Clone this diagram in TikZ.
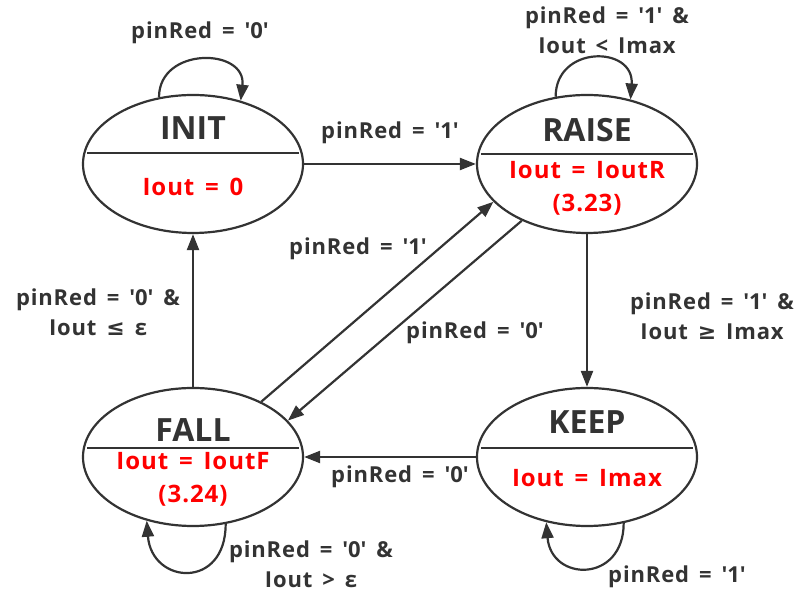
\documentclass[tikz,border=0pt]{standalone}
\usepackage{fontspec}
\setmainfont{Open Sans}
\newfontfamily\lblf{Open Sans}[LetterSpace=4,WordSpace=1.5]
\newfontfamily\symf{DejaVu Sans}
\usetikzlibrary{shapes.geometric,arrows.meta}
\definecolor{ink}{HTML}{333333}
\definecolor{redt}{HTML}{FF0000}
\newcommand\sq{\textquotesingle}
\begin{document}
\begin{tikzpicture}[x=1pt,y=1pt,
  state/.style={ellipse, draw=ink, line width=2.2pt, minimum width=220pt, minimum height=138pt, inner sep=0pt},
  title/.style={text=ink, font=\bfseries\fontsize{32}{36}\selectfont},
  val/.style={text=redt, font=\lblf\bfseries\fontsize{24}{33}\selectfont, align=center},
  lbl/.style={text=ink, font=\lblf\bfseries\fontsize{22}{30}\selectfont, align=center},
  arr/.style={draw=ink, line width=2.2pt, -{Triangle[length=16pt,width=12pt]}},
  div/.style={draw=ink, line width=2.2pt}]
\useasboundingbox (0,0) rectangle (798,596);
% states
\node[state] (INIT) at (193,432) {};
\node[state] (RAISE) at (587,432) {};
\node[state] (FALL) at (193,139) {};
\node[state] (KEEP) at (587,139) {};
% dividers
\draw[div] ([xshift=-106pt,yshift=11pt]INIT.center) -- ([xshift=106pt,yshift=11pt]INIT.center);
\draw[div] ([xshift=-106pt,yshift=10pt]RAISE.center) -- ([xshift=106pt,yshift=10pt]RAISE.center);
\draw[div] ([xshift=-106pt,yshift=9pt]FALL.center) -- ([xshift=106pt,yshift=9pt]FALL.center);
\draw[div] ([xshift=-106pt,yshift=9pt]KEEP.center) -- ([xshift=106pt,yshift=9pt]KEEP.center);
% titles and values
\node[title] (INITt) at (193,468) {INIT};
\node[val] (INITv) at (193,409) {Iout = 0};
\node[title] (RAISEt) at (587,466) {RAISE};
\node[val] (RAISEv) at (587,408) {Iout = IoutR\\(3.23)};
\node[title] (FALLt) at (193,166) {FALL};
\node[val] (FALLv) at (193,117) {Iout = IoutF\\(3.24)};
\node[title] (KEEPt) at (587,174) {KEEP};
\node[val] (KEEPv) at (587,118) {Iout = Imax};
% transitions
\draw[arr] (INIT.east) -- (RAISE.west);
\draw[arr] (KEEP.west) -- (FALL.east);
\draw[arr] (RAISE.south) -- (KEEP.north);
\draw[arr] (FALL.north) -- (INIT.south);
\draw[arr] (FALL.39.6) -- (RAISE.202.5);
\draw[arr] (RAISE.221) -- (FALL.21);
% self loops
\draw[arr] (INIT.117) .. controls +(0,51) and +(6,53) .. (INIT.53);
\draw[arr] (RAISE.115) .. controls +(0,52) and +(4,54) .. (RAISE.56);
\draw[arr] (FALL.296) .. controls +(0,-66) and +(5,-64) .. (FALL.234);
\draw[arr] (KEEP.299) .. controls +(0,-60) and +(5,-60) .. (KEEP.238);
% labels
\node[lbl] (l1) at (200,563) {pinRed = {\sq}0{\sq}};
\node[lbl] (l2) at (607,566) {pinRed = {\sq}1{\sq} \&\\Iout < Imax};
\node[lbl] (l3) at (311,32) {pinRed = {\sq}0{\sq} \&\\Iout > ε};
\node[lbl] (l4) at (677,19) {pinRed = {\sq}1{\sq}};
\node[lbl] (l5) at (390,463) {pinRed = {\sq}1{\sq}};
\node[lbl] (l6) at (400,119) {pinRed = {\sq}0{\sq}};
\node[lbl] (l7) at (98,284) {pinRed = {\sq}0{\sq} \&\\Iout {\symf\bfseries ≤} ε};
\node[lbl] (l8) at (712,280) {pinRed = {\sq}1{\sq} \&\\Iout {\symf\bfseries ≥} Imax};
\node[lbl] (l9) at (358,347) {pinRed = {\sq}1{\sq}};
\node[lbl] (l10) at (475,263) {pinRed = {\sq}0{\sq}};
\end{tikzpicture}
\end{document}
